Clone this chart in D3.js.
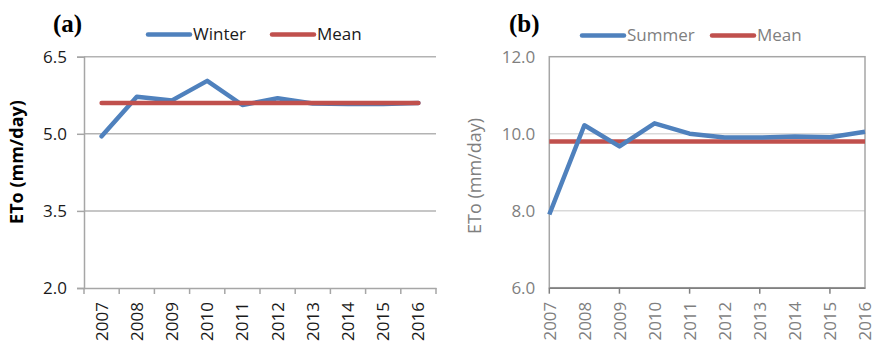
<!DOCTYPE html>
<html><head><meta charset="utf-8">
<script src="https://cdn.jsdelivr.net/npm/d3@7"></script>
<style>body{margin:0;background:#fff}svg{display:block}</style>
</head><body><svg id="c" width="873" height="344" font-family="Open Sans"></svg>
<script>
const years = [2007,2008,2009,2010,2011,2012,2013,2014,2015,2016];
const winter = [4.95,5.72,5.65,6.03,5.56,5.69,5.59,5.58,5.58,5.60];
const winterMean = 5.60;
const summer = [7.90,10.22,9.67,10.27,10.0,9.90,9.90,9.93,9.91,10.05];
const summerMean = 9.80;
const ticksA = [2.0,3.5,5.0,6.5];
const ticksB = [6.0,8.0,10.0,12.0];

const svg = d3.select("#c");
const BLUE = "#4f81bd", RED = "#c0504d";
const FS = 17;

// ---------- Panel (a)
{
  const x = d3.scaleBand().domain(years).range([84,436]).paddingInner(0).paddingOuter(0);
  const y = d3.scaleLinear().domain([2,6.5]).range([288,56.7]);
  const g = svg.append("g");
  g.selectAll(".gl").data(ticksA.slice(1)).join("line")
    .attr("x1",84).attr("x2",436).attr("y1",d=>y(d)).attr("y2",d=>y(d))
    .attr("stroke","#b3b3b3").attr("stroke-width",1.5);
  const ya = g.append("g").attr("transform","translate(84,0)")
    .call(d3.axisLeft(y).tickValues(ticksA).tickFormat(d3.format(".1f")).tickSize(7).tickPadding(10));
  ya.select(".domain").attr("stroke","#a6a6a6").attr("stroke-width",1.5);
  ya.selectAll(".tick line").attr("stroke","#a6a6a6").attr("stroke-width",1.5);
  ya.selectAll("text").attr("font-size",FS).attr("fill","#1a1a1a").attr("font-family","Open Sans");
  const xa = g.append("g").attr("transform","translate(0,288)")
    .call(d3.axisBottom(x).tickSize(0).tickPadding(0));
  xa.select(".domain").attr("stroke","#a6a6a6").attr("stroke-width",1.5);
  xa.selectAll("text").attr("font-size",FS).attr("fill","#1a1a1a").attr("font-family","Open Sans")
    .attr("transform","rotate(-90)").attr("text-anchor","end").attr("x",-14).attr("y",0).attr("dy","0.35em");
  const bounds = years.map(d=>x(d)).concat([x(years[years.length-1])+x.bandwidth()]);
  g.selectAll(".xt").data(bounds).join("line")
    .attr("x1",d=>d).attr("x2",d=>d).attr("y1",288).attr("y2",294)
    .attr("stroke","#a6a6a6").attr("stroke-width",1.5);
  const cx = d=>x(d)+x.bandwidth()/2;
  g.append("path").datum(years).attr("fill","none").attr("stroke",BLUE).attr("stroke-width",4.5)
    .attr("stroke-linejoin","round").attr("stroke-linecap","round")
    .attr("d",d3.line().x(d=>cx(d)).y((d,i)=>y(winter[i])));
  g.append("path").datum(years).attr("fill","none").attr("stroke",RED).attr("stroke-width",4.5)
    .attr("stroke-linecap","round")
    .attr("d",d3.line().x(d=>cx(d)).y(()=>y(winterMean)));
  g.append("text").attr("transform","translate(23,162) rotate(-90)").attr("text-anchor","middle")
    .attr("font-size",18).attr("font-weight","bold").attr("fill","#000").text("ETo (mm/day)");
  g.append("text").attr("x",53).attr("y",32).attr("font-family","Liberation Serif").attr("font-weight","bold")
    .attr("font-size",25).text("(a)");
  const lg = [{t:"Winter",c:BLUE,x:148},{t:"Mean",c:RED,x:272}];
  lg.forEach(l=>{
    g.append("line").attr("x1",l.x).attr("x2",l.x+42).attr("y1",34.5).attr("y2",34.5)
      .attr("stroke",l.c).attr("stroke-width",4.5).attr("stroke-linecap","round");
    g.append("text").attr("x",l.x+45).attr("y",34.5).attr("dy","0.35em").attr("font-size",FS)
      .attr("fill","#1a1a1a").text(l.t);
  });
}

// ---------- Panel (b)
{
  const L=549.3, R=865, T=56.7, B=287.7;
  const x = d3.scalePoint().domain(years).range([L,R]);
  const y = d3.scaleLinear().domain([6,12]).range([B,T]);
  const g = svg.append("g");
  g.selectAll(".gl").data([8,10]).join("line")
    .attr("x1",L).attr("x2",R).attr("y1",d=>y(d)).attr("y2",d=>y(d))
    .attr("stroke","#d9d9d9").attr("stroke-width",1.5);
  g.append("rect").attr("x",L).attr("y",T).attr("width",R-L).attr("height",B-T)
    .attr("fill","none").attr("stroke","#a6a6a6").attr("stroke-width",1.5);
  const ya = g.append("g").attr("transform",`translate(${L},0)`)
    .call(d3.axisLeft(y).tickValues(ticksB).tickFormat(d3.format(".1f")).tickSize(0).tickPadding(14));
  ya.select(".domain").remove();
  ya.selectAll("text").attr("font-size",FS).attr("fill","#7f7f7f").attr("font-family","Open Sans");
  const xa = g.append("g").attr("transform",`translate(0,${B})`)
    .call(d3.axisBottom(x).tickSize(0).tickPadding(0));
  xa.select(".domain").attr("stroke","#808080").attr("stroke-width",1.5);
  xa.selectAll("text").attr("font-size",FS).attr("fill","#7f7f7f").attr("font-family","Open Sans")
    .attr("transform","rotate(-90)").attr("text-anchor","end").attr("x",-14).attr("y",0).attr("dy","0.35em");
  g.selectAll(".xt").data(years.filter((d,i)=>i%2===0)).join("line")
    .attr("x1",d=>x(d)).attr("x2",d=>x(d)).attr("y1",B).attr("y2",B+6)
    .attr("stroke","#808080").attr("stroke-width",1.5);
  g.append("path").datum(years).attr("fill","none").attr("stroke",RED).attr("stroke-width",4.5)
    .attr("d",d3.line().x(d=>x(d)).y(()=>y(summerMean)));
  g.append("path").datum(years).attr("fill","none").attr("stroke",BLUE).attr("stroke-width",4.5)
    .attr("stroke-linejoin","round")
    .attr("d",d3.line().x(d=>x(d)).y((d,i)=>y(summer[i])));
  g.append("text").attr("transform","translate(481,176) rotate(-90)").attr("text-anchor","middle")
    .attr("font-size",18).attr("fill","#7f7f7f").text("ETo (mm/day)");
  g.append("text").attr("x",509).attr("y",32).attr("font-family","Liberation Serif").attr("font-weight","bold")
    .attr("font-size",25).text("(b)");
  const lg = [{t:"Summer",c:BLUE,x:582},{t:"Mean",c:RED,x:712}];
  lg.forEach(l=>{
    g.append("line").attr("x1",l.x).attr("x2",l.x+42).attr("y1",35.5).attr("y2",35.5)
      .attr("stroke",l.c).attr("stroke-width",4.5).attr("stroke-linecap","round");
    g.append("text").attr("x",l.x+45).attr("y",35.5).attr("dy","0.35em").attr("font-size",FS)
      .attr("fill","#7f7f7f").text(l.t);
  });
}
</script></body></html>
